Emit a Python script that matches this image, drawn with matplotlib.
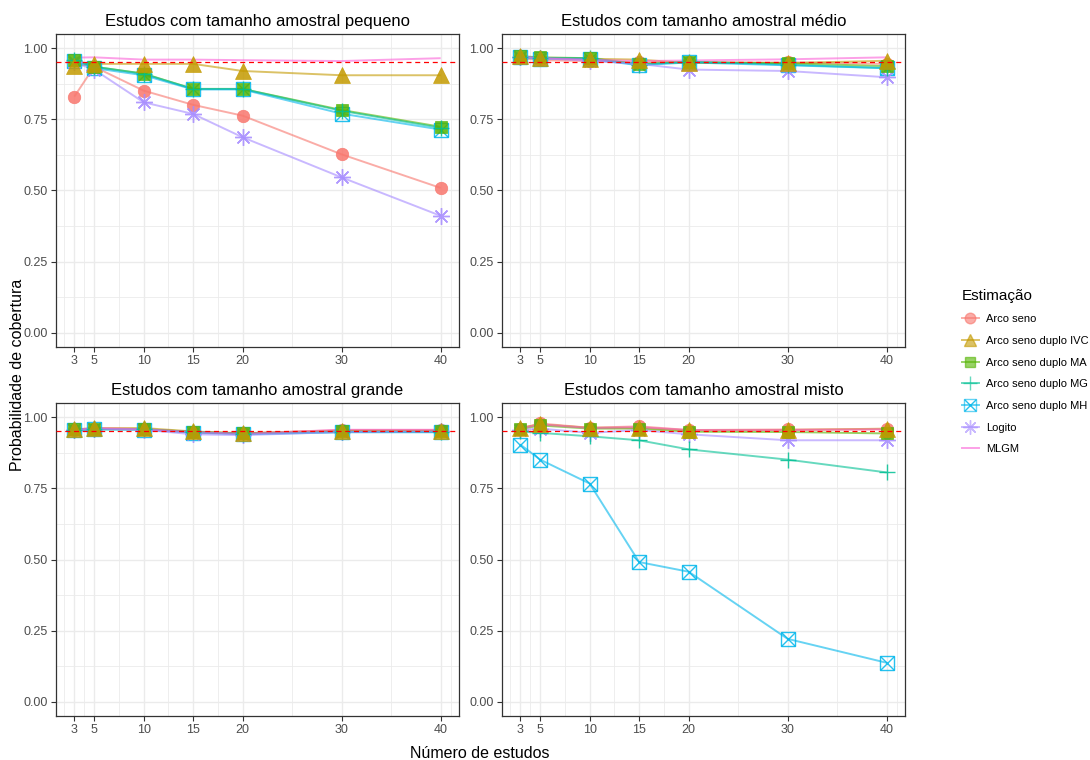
import matplotlib.pyplot as plt
from matplotlib.lines import Line2D

plt.rcParams['font.family'] = ['Liberation Sans', 'DejaVu Sans']

n_estudos = [3, 5, 10, 15, 20, 30, 40]
metodos = ['Arco seno', 'Arco seno duplo IVC', 'Arco seno duplo MA',
           'Arco seno duplo MG', 'Arco seno duplo MH', 'Logito', 'MLGM']

# probabilidade de cobertura, uma linha por método (ordem de `metodos`)
pequeno = [
    [0.830, 0.935, 0.851, 0.801, 0.763, 0.627, 0.509],
    [0.937, 0.945, 0.945, 0.945, 0.920, 0.905, 0.905],
    [0.960, 0.935, 0.911, 0.857, 0.857, 0.783, 0.724],
    [0.960, 0.935, 0.910, 0.857, 0.857, 0.780, 0.720],
    [0.955, 0.930, 0.905, 0.855, 0.855, 0.770, 0.714],
    [0.950, 0.925, 0.810, 0.769, 0.687, 0.546, 0.411],
    [0.967, 0.968, 0.960, 0.960, 0.958, 0.955, 0.965],
]
medio = [
    [0.965, 0.958, 0.955, 0.950, 0.950, 0.950, 0.945],
    [0.972, 0.965, 0.963, 0.960, 0.948, 0.948, 0.956],
    [0.972, 0.968, 0.965, 0.945, 0.951, 0.947, 0.937],
    [0.970, 0.966, 0.965, 0.942, 0.953, 0.942, 0.930],
    [0.968, 0.963, 0.962, 0.940, 0.950, 0.940, 0.930],
    [0.970, 0.965, 0.956, 0.945, 0.925, 0.920, 0.898],
    [0.970, 0.965, 0.960, 0.955, 0.957, 0.961, 0.968],
]
grande = [
    [0.955, 0.960, 0.958, 0.948, 0.943, 0.955, 0.955],
    [0.957, 0.962, 0.962, 0.950, 0.944, 0.953, 0.953],
    [0.957, 0.958, 0.958, 0.949, 0.943, 0.951, 0.951],
    [0.955, 0.958, 0.957, 0.947, 0.942, 0.948, 0.948],
    [0.954, 0.957, 0.956, 0.946, 0.940, 0.947, 0.947],
    [0.955, 0.960, 0.956, 0.940, 0.937, 0.948, 0.950],
    [0.956, 0.962, 0.958, 0.948, 0.942, 0.956, 0.956],
]
misto = [
    [0.960, 0.978, 0.963, 0.968, 0.955, 0.957, 0.957],
    [0.963, 0.975, 0.963, 0.963, 0.954, 0.955, 0.960],
    [0.958, 0.971, 0.960, 0.960, 0.949, 0.948, 0.943],
    [0.950, 0.945, 0.933, 0.919, 0.887, 0.851, 0.806],
    [0.904, 0.851, 0.767, 0.491, 0.457, 0.221, 0.137],
    [0.955, 0.960, 0.945, 0.955, 0.940, 0.919, 0.919],
    [0.960, 0.975, 0.962, 0.965, 0.955, 0.955, 0.958],
]
titulos = ['Estudos com tamanho amostral pequeno', 'Estudos com tamanho amostral médio',
           'Estudos com tamanho amostral grande', 'Estudos com tamanho amostral misto']
nominal = 0.95

cores = ['#F8766D', '#C49A00', '#53B400', '#00C094', '#00B6EB', '#A58AFF', '#FB61D7']
# (marcador, tamanho, preenchido, zorder)
estilos = [
    ('o', 9, True, 3.0),
    ('^', 11, True, 3.5),
    ('s', 9, True, 3.1),
    ('+', 12, False, 3.2),
    ('boxx', 10, False, 3.05),
    ((8, 2, 0), 12, False, 3.08),
    (None, 0, False, 3.0),
]
ALPHA_LINHA = 0.6
ALPHA_PONTO = 0.85

W, H = 1090, 760
fig = plt.figure(figsize=(W / 100, H / 100), dpi=100)


def caixa(l, r, t, b):
    return [l / W, 1 - b / H, (r - l) / W, (b - t) / H]


posicoes = [caixa(56, 459, 34, 347), caixa(502, 905, 34, 347),
            caixa(56, 459, 403, 716), caixa(502, 905, 403, 716)]

minor_x = [2, 4, 7.5, 12.5, 17.5, 25, 35, 41]
minor_y = [0.125, 0.375, 0.625, 0.875]


def desenha_pontos(ax, x, y, cor, estilo):
    marcador, ms, cheio, z = estilo
    if marcador is None:
        return
    if marcador == 'boxx':
        ax.plot(x, y, ls='none', marker='s', ms=ms, mfc='none', mec=cor,
                mew=1.0, alpha=ALPHA_PONTO, zorder=z)
        ax.plot(x, y, ls='none', marker='x', ms=ms * 0.95, mec=cor,
                mew=1.0, alpha=ALPHA_PONTO, zorder=z)
    elif cheio:
        ax.plot(x, y, ls='none', marker=marcador, ms=ms, mfc=cor, mec=cor,
                mew=0.5, alpha=ALPHA_PONTO, zorder=z)
    else:
        ax.plot(x, y, ls='none', marker=marcador, ms=ms, mec=cor,
                mew=1.0, alpha=ALPHA_PONTO, zorder=z)


for pos, dados, titulo in zip(posicoes, [pequeno, medio, grande, misto], titulos):
    ax = fig.add_axes(pos)
    for serie, cor, estilo in zip(dados, cores, estilos):
        ax.plot(n_estudos, serie, color=cor, lw=1.4, alpha=ALPHA_LINHA,
                zorder=2, solid_capstyle='butt')
        desenha_pontos(ax, n_estudos, serie, cor, estilo)
    ax.axhline(nominal, color='red', ls=(0, (4, 3)), lw=0.9, zorder=5)

    ax.set_xlim(1.15, 41.85)
    ax.set_ylim(-0.05, 1.05)
    ax.set_xticks(n_estudos)
    ax.set_xticks(minor_x, minor=True)
    ax.set_yticks([0, 0.25, 0.5, 0.75, 1.0])
    ax.set_yticks(minor_y, minor=True)
    ax.set_yticklabels(['0.00', '0.25', '0.50', '0.75', '1.00'])
    ax.grid(which='major', color='#EBEBEB', lw=1.0, zorder=0)
    ax.grid(which='minor', color='#EBEBEB', lw=0.6, zorder=0)
    ax.set_axisbelow(True)
    ax.tick_params(which='major', length=3.5, width=0.8, color='#333333',
                   labelsize=9, labelcolor='#4D4D4D', pad=2.5)
    ax.tick_params(which='minor', length=0)
    for s in ax.spines.values():
        s.set_color('#333333')
        s.set_linewidth(0.9)
    ax.set_title(titulo, fontsize=12, color='black', pad=6)

fig.text(18 / W, 1 - 375 / H, 'Probabilidade de cobertura', rotation=90,
         ha='center', va='center', fontsize=11.5)
fig.text(480 / W, 1 - 753 / H, 'Número de estudos', ha='center', va='center',
         fontsize=11.5)

# legenda
handles = []
for cor, estilo in zip(cores, estilos):
    marcador, ms, cheio, z = estilo
    linha = dict(color=cor, lw=1.4, alpha=ALPHA_LINHA)
    ms_leg = ms * 0.85
    if marcador is None:
        handles.append(Line2D([], [], **linha))
    elif marcador == 'boxx':
        h1 = Line2D([], [], marker='s', ms=ms_leg, mfc='none', mec=cor, mew=1.0, **linha)
        h2 = Line2D([], [], ls='none', marker='x', ms=ms_leg * 0.95, mec=cor, mew=1.0,
                    alpha=ALPHA_PONTO)
        handles.append((h1, h2))
    elif cheio:
        handles.append(Line2D([], [], marker=marcador, ms=ms_leg, mfc=cor, mec=cor, **linha))
    else:
        handles.append(Line2D([], [], marker=marcador, ms=ms_leg, mec=cor, mew=1.0, **linha))

leg = fig.legend(handles, metodos, title='Estimação', loc='upper left',
                 bbox_to_anchor=(956 / W, 1 - 283 / H), frameon=False,
                 fontsize=8, title_fontsize=11, handlelength=1.6,
                 handletextpad=0.6, labelspacing=1.05, borderpad=0,
                 alignment='left')

fig.savefig('out.png', dpi=100)
